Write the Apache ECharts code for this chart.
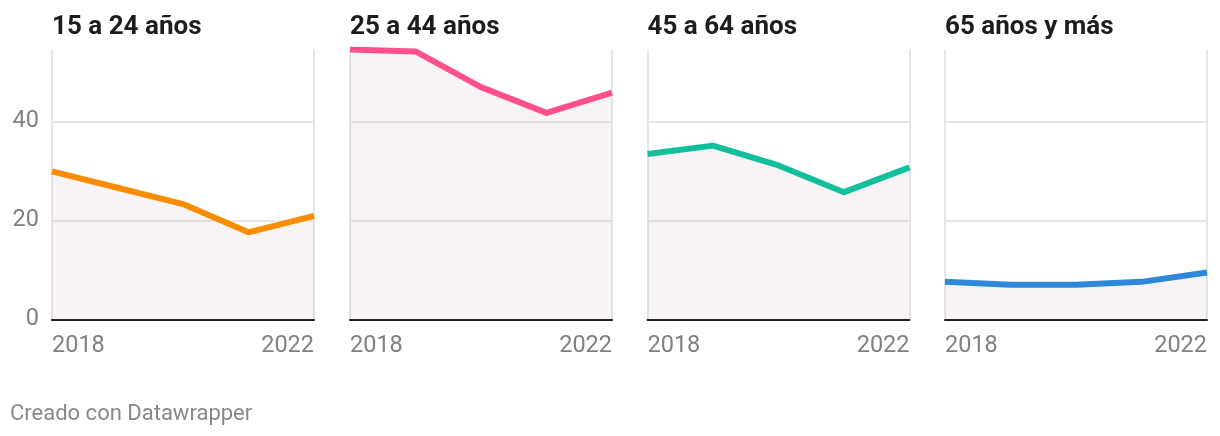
<!DOCTYPE html>
<html>
<head>
<meta charset="utf-8">
<script src="https://cdn.jsdelivr.net/npm/echarts@6/dist/echarts.min.js"></script>
<style>
  html, body { margin: 0; padding: 0; background: #ffffff; }
  #chart { width: 1220px; height: 436px; }
</style>
</head>
<body>
<div id="chart"></div>
<script>
// ---- data ----
const years = ['2018', '2019', '2020', '2021', '2022'];
const panelTitles = ['15 a 24 años', '25 a 44 años', '45 a 64 años', '65 años y más'];
const s15a24 = [29.9, 26.6, 23.3, 17.6, 20.9];
const s25a44 = [54.5, 54.1, 46.9, 41.7, 45.8];
const s45a64 = [33.4, 35.1, 31.1, 25.7, 30.7];
const s65mas = [7.6, 7.0, 7.0, 7.6, 9.5];
const yTicks = [0, 20, 40];
const yMax = 54.5;
const footerText = 'Creado con Datawrapper';

const seriesData = [s15a24, s25a44, s45a64, s65mas];
const colors = ['#fa8c00', '#ff4f8d', '#12bf9d', '#2e88da'];

// ---- layout ----
const lefts = [52, 350, 647.5, 945];
const plotW = 262;
const plotTop = 49.5;
const plotBottom = 319.5;

const grids = [], xAxes = [], yAxes = [], series = [], titles = [];
for (let i = 0; i < 4; i++) {
  grids.push({ left: lefts[i], top: plotTop, width: plotW, height: plotBottom - plotTop });
  xAxes.push({
    type: 'category', gridIndex: i, data: years, boundaryGap: false,
    axisLine: { show: true, onZero: true, lineStyle: { color: '#1d1d1d', width: 2 } },
    axisTick: { show: false },
    axisLabel: {
      interval: (idx) => idx === 0 || idx === years.length - 1,
      color: '#808080', fontFamily: 'Roboto', fontSize: 23.5, margin: 15,
      alignMinLabel: 'left', alignMaxLabel: 'right'
    },
    splitLine: {
      show: true,
      interval: (idx) => idx === 0 || idx === years.length - 1,
      lineStyle: { color: '#e6e6e6', width: 2 }
    }
  });
  yAxes.push({
    type: 'value', gridIndex: i, min: 0, max: yMax, interval: 20,
    axisLine: { show: false }, axisTick: { show: false },
    axisLabel: {
      show: i === 0,
      formatter: (v) => yTicks.indexOf(v) >= 0 ? String(v) : '',
      color: '#808080', fontFamily: 'Roboto', fontSize: 23.5, margin: 13,
      padding: [3, 0, 0, 0]
    },
    splitLine: {
      show: true,
      lineStyle: { color: ['#e6e6e6', '#e6e6e6', '#e6e6e6', 'rgba(0,0,0,0)'], width: 2 }
    }
  });
  series.push({
    type: 'line', xAxisIndex: i, yAxisIndex: i, data: seriesData[i],
    symbol: 'none', smooth: false,
    lineStyle: { color: colors[i], width: 6, cap: 'butt', join: 'round' },
    areaStyle: { color: 'rgba(185,145,155,0.1)', opacity: 1 },
    z: 3
  });
  titles.push({
    text: panelTitles[i], left: lefts[i] - 5, top: 9,
    textStyle: { fontFamily: 'Roboto', fontWeight: 'bold', fontSize: 26, color: '#1d1d1d' }
  });
}
titles.push({
  text: footerText, left: 5, top: 398,
  textStyle: { fontFamily: 'Roboto', fontWeight: 'normal', fontSize: 22, color: '#888888' }
});

const chart = echarts.init(document.getElementById('chart'), null, { renderer: 'canvas' });
chart.setOption({
  animation: false,
  backgroundColor: '#ffffff',
  title: titles,
  grid: grids,
  xAxis: xAxes,
  yAxis: yAxes,
  series: series
});
</script>
</body>
</html>
